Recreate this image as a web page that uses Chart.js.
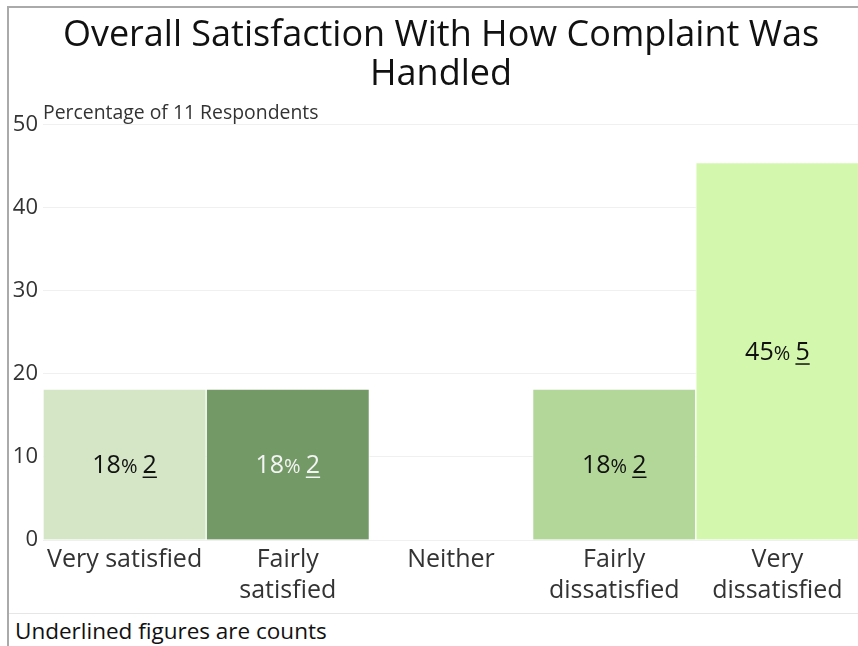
<!DOCTYPE html>
<html>
<head>
<meta charset="utf-8">
<script src="https://cdn.jsdelivr.net/npm/chart.js@4.4.0/dist/chart.umd.min.js"></script>
<style>
  body { margin: 0; background: #fff; font-family: "Open Sans", sans-serif; overflow: hidden; }
  .frame { position: absolute; left: 7px; top: 6px; width: 880px; height: 680px;
           border-left: 2px solid #aaa; border-top: 2px solid #aaa; }
  .box { position: relative; width: 864px; height: 600px; }
  .foot { position: absolute; left: 0; top: 605px; width: 880px; border-top: 1px solid #e6e6e6;
          font-size: 22.5px; color: #111; padding: 1px 0 0 6px; }
</style>
</head>
<body>
<div class="frame">
  <div class="box"><canvas id="myChart"></canvas></div>
  <div class="foot">Underlined figures are counts</div>
</div>
<script>
const categories = [['Very satisfied'], ['Fairly', 'satisfied'], ['Neither'], ['Fairly', 'dissatisfied'], ['Very', 'dissatisfied']];
const percents = [18.18, 18.18, 0, 18.18, 45.45];
const counts = [2, 2, 0, 2, 5];
const barColors = ['#d4e6c6', '#739966', '#9fcc80', '#b3d799', '#d3f7ad'];
const labelColors = ['#111', '#f4f4f4', '#111', '#111', '#111'];
const yTicks = [0, 10, 20, 30, 40, 50];
const axisTitle = 'Percentage of 11 Respondents';

const FONT = '"Open Sans", sans-serif';

// draws "18% 2" inside each bar, count underlined
const barText = {
    id: 'barText',
    afterDatasetsDraw(chart) {
        const c = chart.ctx;
        const meta = chart.getDatasetMeta(0);
        meta.data.forEach(function(bar, i) {
            if (!counts[i]) return;
            const num = String(Math.round(percents[i]));
            const cnt = String(counts[i]);
            const yMid = (bar.y + bar.base) / 2;
            c.save();
            c.textBaseline = 'alphabetic';
            c.fillStyle = labelColors[i];
            c.strokeStyle = labelColors[i];
            c.font = '25px ' + FONT;
            const w1 = c.measureText(num).width;
            const w3 = c.measureText(cnt).width;
            c.font = '20px ' + FONT;
            const w2 = c.measureText('% ').width;
            let x = bar.x - (w1 + w2 + w3) / 2;
            const base = yMid + 9;
            c.font = '25px ' + FONT;
            c.fillText(num, x, base);
            x += w1;
            c.font = '20px ' + FONT;
            c.fillText('% ', x, base);
            x += w2;
            c.font = '25px ' + FONT;
            c.fillText(cnt, x, base);
            c.lineWidth = 1.5;
            c.beginPath();
            c.moveTo(x, base + 4);
            c.lineTo(x + w3, base + 4);
            c.stroke();
            c.restore();
        });
    }
};

// axis title written flat above the plot
const topNote = {
    id: 'topNote',
    afterDraw(chart) {
        const c = chart.ctx;
        c.save();
        c.font = '19.4px ' + FONT;
        c.fillStyle = '#333';
        c.textBaseline = 'alphabetic';
        c.fillText(axisTitle, chart.chartArea.left, chart.chartArea.top - 6);
        c.restore();
    }
};

const ctx = document.getElementById('myChart').getContext('2d');
const myChart = new Chart(ctx, {
    type: 'bar',
    data: {
        labels: categories,
        datasets: [{
            data: percents,
            backgroundColor: barColors,
            borderColor: 'rgba(255,255,255,0.7)',
            borderWidth: 1,
            barPercentage: 1,
            categoryPercentage: 1
        }]
    },
    options: {
        responsive: true,
        maintainAspectRatio: false,
        animation: false,
        layout: { padding: { left: 14, right: 14, top: 0, bottom: 0 } },
        plugins: {
            legend: { display: false },
            tooltip: { enabled: false },
            title: {
                display: true,
                text: ['Overall Satisfaction With How Complaint Was', 'Handled'],
                color: '#111',
                font: { family: FONT, size: 36, weight: 'normal', lineHeight: 1.08 },
                padding: { top: 8, bottom: 31 }
            }
        },
        scales: {
            x: {
                grid: { display: false },
                border: { display: false },
                ticks: {
                    color: '#333',
                    font: { family: FONT, size: 25, lineHeight: 1.24 },
                    padding: -4,
                    maxRotation: 0,
                    autoSkip: false
                },
                afterFit(scale) { scale.height = 68; }
            },
            y: {
                min: 0,
                max: 50,
                z: 1,
                afterBuildTicks(scale) { scale.ticks = yTicks.map(v => ({ value: v })); },
                grid: { color: 'rgba(0,0,0,0.06)', drawTicks: false },
                border: { display: false },
                ticks: {
                    color: '#333',
                    font: { family: FONT, size: 22 },
                    padding: 5
                },
                afterFit(scale) {
                    scale.width = 20;
                    // labels sit in the layout padding, so don't clip them to the axis box
                    scale._computeLabelArea = function() {};
                }
            }
        }
    },
    plugins: [barText, topNote]
});
</script>
</body>
</html>
